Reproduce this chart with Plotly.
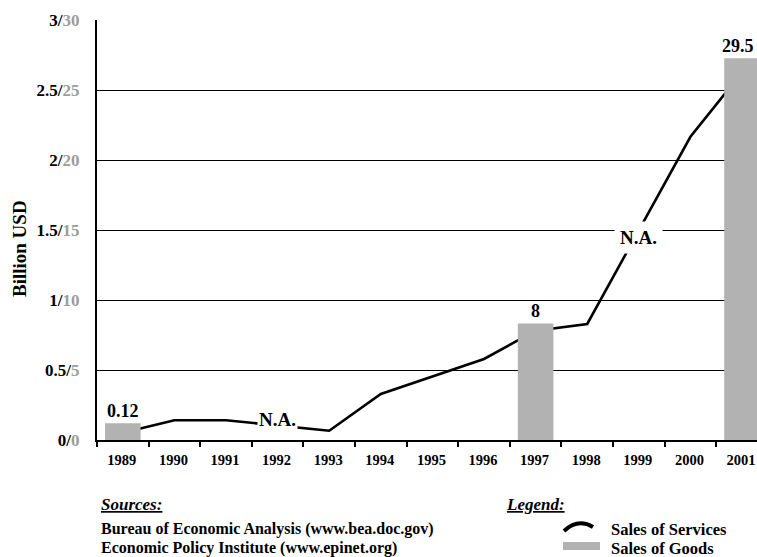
import plotly.graph_objects as go

# ---------------- data ----------------
years = ["1989", "1990", "1991", "1992", "1993", "1994", "1995",
         "1996", "1997", "1998", "1999", "2000", "2001"]
# Sales of Services (billion USD, left scale 0-3); None = N.A.
services = [0.052, 0.141, 0.141, None, 0.066, 0.329, 0.454,
            0.579, 0.781, 0.829, None, 2.166, 2.626]
# Sales of Goods (right scale 0-30), as drawn, with printed labels
goods_years = ["1989", "1997", "2001"]
goods_heights = [1.19, 8.33, 27.26]
goods_labels = ["0.12", "8", "29.5"]
na_years = ["1992", "1999"]
na_levels = [0.15, 1.45]

left_ticks = [0, 0.5, 1, 1.5, 2, 2.5, 3]
left_tick_text = ["0", "0.5", "1", "1.5", "2", "2.5", "3"]
right_tick_text = ["0", "5", "10", "15", "20", "25", "30"]

FONT = "Liberation Serif, Times New Roman, serif"
GRAY_BAR = "#b2b2b2"
GRAY_TXT = "#9c9c9c"

W, H = 757, 557
L, R, T, B = 97, 0, 20, 117
PW, PH = W - L - R, H - T - B


def px(xp):
    """page pixel x -> paper x"""
    return (xp - L) / PW


def py(yp):
    """page pixel y -> paper y"""
    return (H - B - yp) / PH


def cat(yr):
    """category index on the x axis"""
    return years.index(yr)


fig = go.Figure()

fig.add_trace(go.Bar(
    x=goods_years, y=goods_heights, yaxis="y2", name="Sales of Goods",
    marker=dict(color=GRAY_BAR, line=dict(width=0)), width=0.69,
    showlegend=False,
))

fig.add_trace(go.Scatter(
    x=years, y=services, mode="lines", name="Sales of Services",
    line=dict(color="black", width=2.6), connectgaps=True,
    showlegend=False,
))

# bar value labels
for i, (yr, h, lab) in enumerate(zip(goods_years, goods_heights, goods_labels)):
    fig.add_annotation(
        x=cat(yr), y=h, xref="x", yref="y2", text=f"<b>{lab}</b>",
        showarrow=False, yanchor="bottom", yshift=0,
        xshift=-4 if i == len(goods_years) - 1 else 0,
        font=dict(family=FONT, size=18, color="black"),
    )

ticktext = [f"<b>{a}/</b><span style='color:{GRAY_TXT}'><b>{b}</b></span>"
            for a, b in zip(left_tick_text, right_tick_text)]

fig.update_layout(
    width=W, height=H,
    margin=dict(l=L, r=R, t=T, b=B, pad=0),
    paper_bgcolor="white", plot_bgcolor="white",
    font=dict(family=FONT, color="black"),
    xaxis=dict(
        type="category", categoryorder="array", categoryarray=years,
        range=[-0.5, 12.29], showgrid=False, zeroline=False,
        showline=True, linecolor="black", linewidth=2,
        ticks="outside", tickson="boundaries", ticklen=5,
        tickcolor="black", tickwidth=1.5,
        tickfont=dict(family=FONT, size=14.5, weight="bold"),
        ticklabelstandoff=6, ticklabelshift=-1, ticklabeloverflow="allow",
    ),
    yaxis=dict(
        range=[0, 3], tickvals=left_ticks, ticktext=ticktext,
        showgrid=True, gridcolor="black", gridwidth=1.3,
        zeroline=False, showline=True, linecolor="black", linewidth=2,
        ticks="", tickfont=dict(family=FONT, size=17),
        ticklabelstandoff=12,
    ),
    yaxis2=dict(range=[0, 30], overlaying="y", visible=False),
)

# axis title
fig.add_annotation(xref="paper", yref="paper", x=px(19), y=py(249),
                   xanchor="center", yanchor="middle", showarrow=False,
                   textangle=-90, text="<b>Billion USD</b>",
                   font=dict(family=FONT, size=19))

# N.A. labels
for yr, lvl in zip(na_years, na_levels):
    fig.add_annotation(
        x=cat(yr), y=lvl, xref="x", yref="y", text="<b>N.A.</b>",
        showarrow=False, bgcolor="white",
        borderpad=5 if yr == "1999" else 1,
        font=dict(family=FONT, size=19, color="black"),
    )

# Sources block
fig.add_annotation(xref="paper", yref="paper", x=px(99), y=py(505),
                   xanchor="left", yanchor="middle", showarrow=False,
                   text="<b><i><u>Sources:</u></i></b>",
                   font=dict(family=FONT, size=17))
fig.add_annotation(xref="paper", yref="paper", x=px(99), y=py(529),
                   xanchor="left", yanchor="middle", showarrow=False,
                   text="<b>Bureau of Economic Analysis (www.bea.doc.gov)</b>",
                   font=dict(family=FONT, size=16))
fig.add_annotation(xref="paper", yref="paper", x=px(99), y=py(548),
                   xanchor="left", yanchor="middle", showarrow=False,
                   text="<b>Economic Policy Institute (www.epinet.org)</b>",
                   font=dict(family=FONT, size=16))

# Legend block
fig.add_annotation(xref="paper", yref="paper", x=px(504), y=py(505),
                   xanchor="left", yanchor="middle", showarrow=False,
                   text="<b><i><u>Legend:</u></i></b>",
                   font=dict(family=FONT, size=17))
fig.add_annotation(xref="paper", yref="paper", x=px(609), y=py(529),
                   xanchor="left", yanchor="middle", showarrow=False,
                   text="<b>Sales of Services</b>",
                   font=dict(family=FONT, size=16.5))
fig.add_annotation(xref="paper", yref="paper", x=px(609), y=py(548),
                   xanchor="left", yanchor="middle", showarrow=False,
                   text="<b>Sales of Goods</b>",
                   font=dict(family=FONT, size=16.5))

# legend symbols
fig.add_shape(type="path", xref="paper", yref="paper",
              path=f"M {px(564)},{py(531)} Q {px(578)},{py(518)} {px(593)},{py(527)}",
              line=dict(color="black", width=4))
fig.add_shape(type="rect", xref="paper", yref="paper",
              x0=px(563), x1=px(600), y0=py(550), y1=py(542),
              fillcolor=GRAY_BAR, line=dict(width=0))

# remove the default page margin so the figure fills the window
fig.write_html("out.html",
               config={"displayModeBar": False},
               post_script="document.body.style.margin='0';"
                           "document.body.style.overflow='hidden';")
